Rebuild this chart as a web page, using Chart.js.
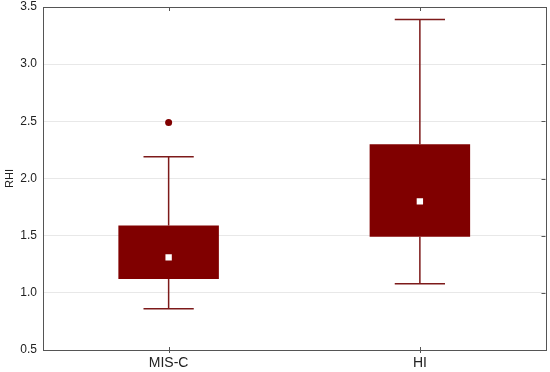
<!DOCTYPE html>
<html>
<head>
<meta charset="utf-8">
<script src="https://cdn.jsdelivr.net/npm/chart.js@4"></script>
<style>
  html, body { margin: 0; padding: 0; background: #fff; }
  #wrap { width: 550px; height: 372px; }
</style>
</head>
<body>
<div id="wrap"><canvas id="boxChart" width="550" height="372"></canvas></div>
<script>
// Box plot values
const groups = ['MIS-C', 'HI'];
const q1Values = [1.12, 1.49];
const q3Values = [1.59, 2.30];
const medianValues = [1.31, 1.80];
const minValues = [0.86, 1.08];
const maxValues = [2.19, 3.39];
const outlierValues = [2.49, null];
const yTicks = [0.5, 1.0, 1.5, 2.0, 2.5, 3.0, 3.5];

const boxColor = '#800000';
const whiskerColor = '#7d1a1a';

// whiskers + frame, drawn through the chart's own scales
const whiskerPlugin = {
    id: 'whiskers',
    beforeDatasetsDraw(chart) {
        const ctx = chart.ctx;
        const x = chart.scales.x;
        const y = chart.scales.y;
        const half = x.width / groups.length * 0.2 / 2; // cap = half box width
        ctx.save();
        ctx.strokeStyle = whiskerColor;
        ctx.lineWidth = 1.5;
        groups.forEach((g, i) => {
            const cx = x.getPixelForValue(i);
            const yMin = y.getPixelForValue(minValues[i]);
            const yMax = y.getPixelForValue(maxValues[i]);
            const yQ1 = y.getPixelForValue(q1Values[i]);
            const yQ3 = y.getPixelForValue(q3Values[i]);
            ctx.beginPath();
            ctx.moveTo(cx, yQ3); ctx.lineTo(cx, yMax);
            ctx.moveTo(cx, yQ1); ctx.lineTo(cx, yMin);
            ctx.moveTo(cx - half, yMax); ctx.lineTo(cx + half, yMax);
            ctx.moveTo(cx - half, yMin); ctx.lineTo(cx + half, yMin);
            ctx.stroke();
        });
        ctx.restore();
    },
    afterDraw(chart) {
        const ctx = chart.ctx;
        const a = chart.chartArea;
        const x = chart.scales.x;
        const y = chart.scales.y;
        ctx.save();
        ctx.strokeStyle = '#555';
        ctx.lineWidth = 1;
        ctx.strokeRect(Math.round(a.left) + 0.5, Math.round(a.top) + 0.5,
            Math.round(a.right - a.left), Math.round(a.bottom - a.top));
        // small inner ticks on top/right, like the original
        ctx.beginPath();
        groups.forEach((g, i) => {
            const cx = Math.round(x.getPixelForValue(i)) + 0.5;
            ctx.moveTo(cx, a.top); ctx.lineTo(cx, a.top + 4);
            ctx.moveTo(cx, a.bottom - 3); ctx.lineTo(cx, a.bottom + 3);
        });
        yTicks.forEach(v => {
            const py = Math.round(y.getPixelForValue(v)) + 0.5;
            ctx.moveTo(a.right - 4, py); ctx.lineTo(a.right, py);
        });
        ctx.stroke();
        ctx.restore();
    }
};

new Chart(document.getElementById('boxChart'), {
    type: 'bar',
    data: {
        labels: groups,
        datasets: [
            {
                label: 'IQR',
                data: q1Values.map((v, i) => [v, q3Values[i]]),
                backgroundColor: boxColor,
                borderWidth: 0,
                barPercentage: 0.4,
                categoryPercentage: 1.0,
                order: 3
            },
            {
                type: 'line',
                label: 'Median',
                data: medianValues,
                showLine: false,
                pointStyle: 'rect',
                pointRadius: 4.5,
                pointBackgroundColor: '#fff',
                pointBorderWidth: 0,
                order: 1
            },
            {
                type: 'line',
                label: 'Outlier',
                data: outlierValues,
                showLine: false,
                pointStyle: 'circle',
                pointRadius: 3.5,
                pointBackgroundColor: boxColor,
                pointBorderWidth: 0,
                order: 2
            }
        ]
    },
    options: {
        responsive: false,
        animation: false,
        layout: { padding: { top: 7, right: 3, bottom: 0, left: 0 } },
        plugins: {
            legend: { display: false },
            tooltip: { enabled: false }
        },
        scales: {
            x: {
                grid: { display: false, drawTicks: false },
                border: { display: false },
                ticks: {
                    color: '#222',
                    font: { family: "'Liberation Sans', Arial, sans-serif", size: 14 },
                    padding: 5
                },
                afterFit: (scale) => {
                    scale.height = 22;
                    scale.paddingLeft = 0;
                    scale.paddingRight = 0;
                }
            },
            y: {
                min: 0.5,
                max: 3.5,
                afterBuildTicks: (scale) => { scale.ticks = yTicks.map(v => ({ value: v })); },
                afterFit: (scale) => {
                    scale.width = 43;
                    scale.paddingTop = 0;
                    scale.paddingBottom = 0;
                },
                grid: { color: '#e8e8e8', lineWidth: 1, drawTicks: false },
                border: { display: false },
                ticks: {
                    color: '#222',
                    font: { family: "'Liberation Sans', Arial, sans-serif", size: 12 },
                    padding: 6,
                    callback: (v) => Number(v).toFixed(1)
                },
                title: {
                    display: true,
                    text: 'RHI',
                    color: '#222',
                    font: { family: "'Liberation Sans', Arial, sans-serif", size: 11 },
                    padding: { top: 3, bottom: 0 }
                }
            }
        }
    },
    plugins: [whiskerPlugin]
});
</script>
</body>
</html>
